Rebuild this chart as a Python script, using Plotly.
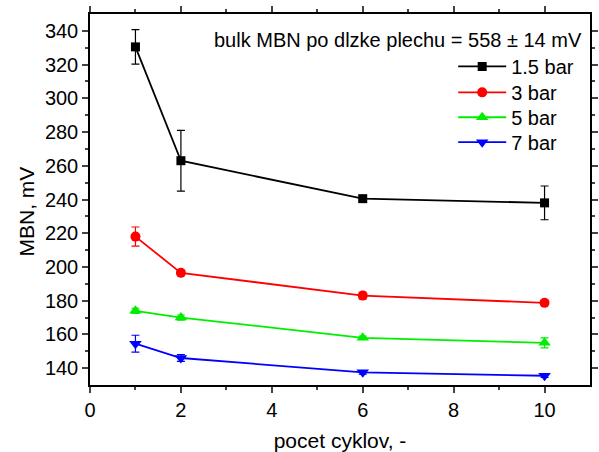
import plotly.graph_objects as go

cycles = [1, 2, 6, 10]
series_names = ["1.5 bar", "3 bar", "5 bar", "7 bar"]
mbn_15 = [330.5, 263.0, 240.5, 238.0]
err_15 = [10.2, 18.0, 1.5, 10.0]
mbn_3 = [218.0, 196.5, 183.0, 178.7]
err_3 = [5.7, 1.2, 2.0, 1.0]
mbn_5 = [174.0, 170.0, 158.0, 155.0]
err_5 = [1.5, 1.5, 1.0, 3.0]
mbn_7 = [154.5, 146.0, 137.5, 135.5]
err_7 = [5.0, 2.0, 1.0, 1.0]

colors = ["#000000", "#ff0000", "#00ee00", "#0000ff"]
symbols = ["square", "circle", "triangle-up", "triangle-down"]
sizes = [9, 10, 11, 11]
legend_ids = ["legend", "legend2", "legend3", "legend4"]
legend_centers = [67, 93, 118, 143]

fig = go.Figure()
for name, y, e, c, s, sz, lg in zip(series_names, [mbn_15, mbn_3, mbn_5, mbn_7],
                                    [err_15, err_3, err_5, err_7], colors, symbols, sizes, legend_ids):
    fig.add_trace(go.Scatter(
        x=cycles, y=y, name=name, mode="lines+markers", legend=lg,
        line=dict(color=c, width=1.8),
        marker=dict(symbol=s, size=sz, color=c),
        error_y=dict(type="data", array=e, visible=True, color=c, thickness=1.2, width=4),
    ))

font = "Arial, Liberation Sans, sans-serif"
layout_legends = {}
for lg, yc in zip(legend_ids, legend_centers):
    layout_legends[lg] = dict(x=(459 - 90) / 508, y=1 - (yc - 20 - 14) / 372, xanchor="left",
                              yanchor="top", bgcolor="rgba(0,0,0,0)", font=dict(size=20),
                              itemwidth=48)

fig.update_layout(
    width=599, height=452,
    margin=dict(l=90, r=1, t=14, b=66),
    paper_bgcolor="white", plot_bgcolor="white",
    font=dict(family=font, size=20, color="black"),
    showlegend=True,
    annotations=[
        dict(text="bulk MBN po dlzke plechu = 558 ± 14 mV", xref="paper", yref="paper",
             x=(592 - 90) / 508, y=1 - (40 - 14) / 372, xanchor="right", yanchor="middle",
             showarrow=False, font=dict(size=20)),
        dict(text="MBN, mV", xref="paper", yref="paper", textangle=-90,
             x=(25 - 90) / 508, y=1 - (212 - 14) / 372, xanchor="center", yanchor="middle",
             showarrow=False, font=dict(size=21)),
    ],
    **layout_legends,
)
fig.update_xaxes(range=[0, 11], tickvals=[0, 2, 4, 6, 8, 10], ticks="outside", ticklen=6,
                 tickwidth=1.5, showline=True, linewidth=1.5, linecolor="black", mirror="ticks",
                 showgrid=False, zeroline=False,
                 minor=dict(tickvals=[1, 3, 5, 7, 9], ticks="outside", ticklen=3, tickwidth=1.5),
                 title=dict(text="pocet cyklov, -", font=dict(size=21), standoff=16),
                 tickfont=dict(size=20))
fig.update_yaxes(range=[130, 350], tickvals=[140, 160, 180, 200, 220, 240, 260, 280, 300, 320, 340],
                 ticks="outside", ticklen=6, tickwidth=1.5, showline=True, linewidth=1.5,
                 linecolor="black", mirror="ticks", showgrid=False, zeroline=False,
                 minor=dict(tickvals=[150, 170, 190, 210, 230, 250, 270, 290, 310, 330], ticks="outside",
                            ticklen=3, tickwidth=1.5),
                 tickfont=dict(size=20))

fig.write_html("out.html")
